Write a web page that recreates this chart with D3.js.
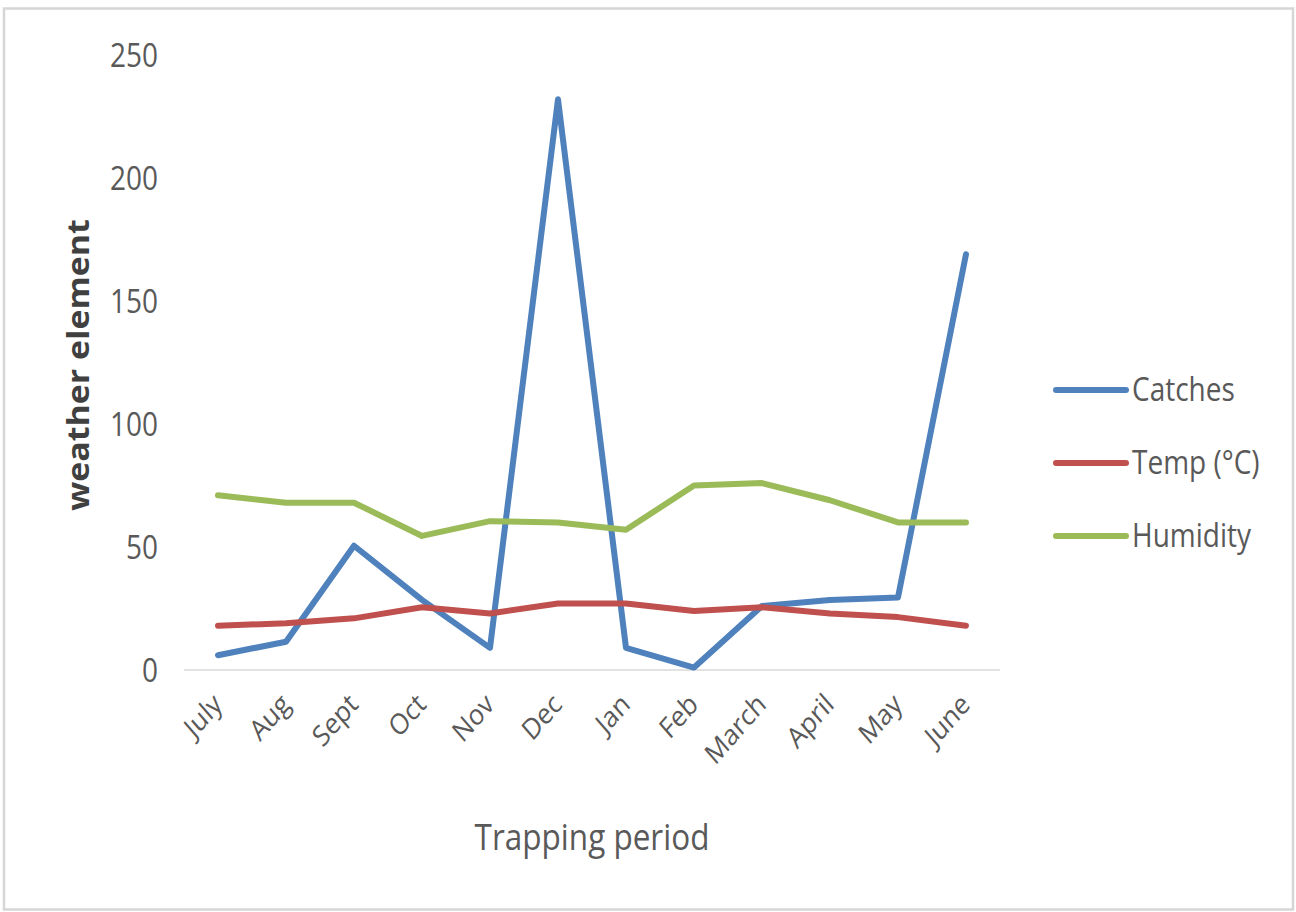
<!DOCTYPE html>
<html>
<head>
<meta charset="utf-8">
<script src="https://cdn.jsdelivr.net/npm/d3@7"></script>
<style>
  html, body { margin: 0; padding: 0; background: #fff; }
  svg { display: block; }
  text { font-family: "Open Sans", "Noto Sans", sans-serif; fill: #595959; }
</style>
</head>
<body>
<svg id="chart" width="1296" height="912"></svg>
<script>
// Monthly trapping record
const months = ["July", "Aug", "Sept", "Oct", "Nov", "Dec", "Jan", "Feb", "March", "April", "May", "June"];
const catches = [6, 11.5, 50.5, 28.5, 9, 232, 9, 1, 26, 28.5, 29.5, 169];
const temp = [18, 19, 21, 25.5, 23, 27, 27, 24, 25.5, 23, 21.5, 18];
const humidity = [71, 68, 68, 54.5, 60.5, 60, 57, 75, 76, 69, 60, 60];
const yTicks = [0, 50, 100, 150, 200, 250];

const seriesList = [
  { name: "Catches", values: catches, color: "#4F81BD" },
  { name: "Temp (°C)", values: temp, color: "#C0504D" },
  { name: "Humidity", values: humidity, color: "#9BBB59" }
];

// glyphs are drawn slightly taller than wide
const TALL = 1.15;

const svg = d3.select("#chart");

// outer frame
svg.append("rect")
  .attr("x", 4).attr("y", 8.5).attr("width", 1289).attr("height", 901)
  .attr("fill", "#fff").attr("stroke", "#d6d6d6").attr("stroke-width", 2.5);

const plot = { left: 184, right: 1000, top: 55, bottom: 670 };

const x = d3.scalePoint().domain(months).range([plot.left, plot.right]).padding(0.5);
const y = d3.scaleLinear().domain([0, 250]).range([plot.bottom, plot.top]);

// y-axis tick labels
const yAxis = svg.append("g")
  .attr("transform", `translate(${plot.left},0)`)
  .call(d3.axisLeft(y).tickValues(yTicks).tickSize(0).tickPadding(0));
yAxis.select(".domain").remove();
yAxis.selectAll("text")
  .attr("font-size", 28).attr("fill", "#595959")
  .style("font-family", "'Open Sans', sans-serif")
  .attr("x", 0).attr("dy", "0.36em")
  .attr("transform", `translate(-26,0) scale(1,${TALL})`);

// x-axis baseline and rotated month labels
const xAxis = svg.append("g")
  .attr("transform", `translate(0,${plot.bottom})`)
  .call(d3.axisBottom(x).tickSize(0).tickPadding(0));
xAxis.select(".domain")
  .attr("d", `M${plot.left},0H${plot.right}`)
  .attr("stroke", "#d9d9d9").attr("stroke-width", 1.5);
xAxis.selectAll(".tick text")
  .attr("font-size", 25).attr("fill", "#595959")
  .style("font-family", "'Open Sans', sans-serif")
  .attr("text-anchor", "end")
  .attr("y", 0).attr("dy", 0)
  .attr("transform", `translate(5,36) scale(1,${TALL}) rotate(-45)`);

// series lines
const line = d3.line()
  .x((d, i) => x(months[i]))
  .y(d => y(d));

svg.append("g").selectAll("path")
  .data(seriesList)
  .join("path")
  .attr("d", s => line(s.values))
  .attr("fill", "none")
  .attr("stroke", s => s.color)
  .attr("stroke-width", 6)
  .attr("stroke-linejoin", "round")
  .attr("stroke-linecap", "round");

// axis titles
svg.append("text")
  .attr("transform", `translate(89,365) scale(1,${TALL}) rotate(-90)`)
  .attr("text-anchor", "middle")
  .attr("font-size", 29.5).attr("font-weight", "bold")
  .style("fill", "#404040")
  .text("weather element");

svg.append("text")
  .attr("transform", `translate(592,850) scale(1,${TALL})`)
  .attr("text-anchor", "middle")
  .attr("font-size", 31.5)
  .text("Trapping period");

// legend
const legend = svg.append("g").attr("transform", "translate(1056,390)");
const item = legend.selectAll("g")
  .data(seriesList)
  .join("g")
  .attr("transform", (d, i) => `translate(0,${i * 73})`);
item.append("line")
  .attr("x1", 0).attr("x2", 70)
  .attr("stroke", d => d.color)
  .attr("stroke-width", 6)
  .attr("stroke-linecap", "round");
item.append("text")
  .attr("transform", `translate(76,0) scale(1,${TALL})`)
  .attr("dy", "0.35em")
  .attr("font-size", 28)
  .text(d => d.name);
</script>
</body>
</html>
